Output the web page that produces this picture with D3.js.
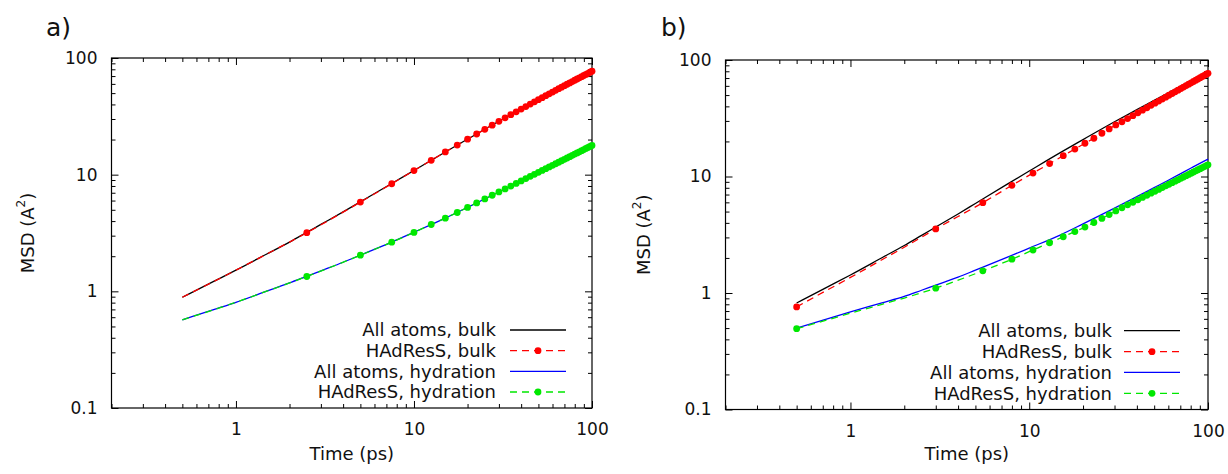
<!DOCTYPE html>
<html>
<head>
<meta charset="utf-8">
<script src="https://cdn.jsdelivr.net/npm/d3@7"></script>
<style>
  html, body { margin: 0; padding: 0; background: #fff; }
  svg { display: block; font-family: "DejaVu Sans", sans-serif; }
</style>
</head>
<body>
<svg id="chart" width="1228" height="474"></svg>
<script>
// ---------------- DATA ----------------
const legendLabels = ["All atoms, bulk", "HAdResS, bulk", "All atoms, hydration", "HAdResS, hydration"];
const panelLabels = ["a)", "b)"];
const xTickValues = [1, 10, 100];
const yTickValues = [0.1, 1, 10, 100];
const xAxisTitle = "Time (ps)";

// times for the continuous "All atoms" curves
const lineTimes = [0.5, 0.75, 1, 1.5, 2, 2.5, 3, 4, 5, 7.5, 10, 15, 20, 30, 40, 50, 60, 70, 80, 90, 100];

// panel a) All atoms
const aBulkAll = [0.89, 1.216, 1.518, 2.10, 2.643, 3.20, 3.745, 4.797, 5.85, 8.39, 10.87, 15.65, 20.15, 28.67, 36.49, 43.92, 51.09, 57.9, 64.43, 70.8, 77.0];
const aHydrAll = [0.57, 0.698, 0.806, 1.007, 1.18, 1.346, 1.499, 1.776, 2.044, 2.639, 3.207, 4.242, 5.243, 7.106, 8.839, 10.47, 12.03, 13.53, 15.0, 16.42, 17.82];

// panel a) HAdResS: unmarked curve points, then marked points
const aPlainTimes = [0.5, 1, 1.5, 2];
const aBulkPlain = [0.89, 1.518, 2.10, 2.643];
const aHydrPlain = [0.57, 0.806, 1.007, 1.18];
const aDotTimes = [2.5, 5, 7.5, 10, 12.5, 15, 17.5, 20, 22.5, 25, 27.5, 30, 32.5, 35, 37.5, 40, 42.5, 45, 47.5, 50,
                   52.5, 55, 57.5, 60, 62.5, 65, 67.5, 70, 72.5, 75, 77.5, 80, 82.5, 85, 87.5, 90, 92.5, 95, 97.5, 100];
const aBulkHad = [3.18, 5.82, 8.36, 10.85, 13.28, 15.65, 17.94, 20.15, 22.32, 24.46, 26.58, 28.67, 30.71, 32.66, 34.59, 36.49, 38.37, 40.24, 42.07, 43.92,
                  45.73, 47.53, 49.32, 51.09, 52.85, 54.57, 56.25, 57.9, 59.56, 61.19, 62.82, 64.43, 66.04, 67.63, 69.22, 70.8, 72.37, 73.93, 75.48, 77.0];
const aHydrHad = [1.34, 2.04, 2.64, 3.2, 3.74, 4.24, 4.74, 5.24, 5.73, 6.2, 6.66, 7.11, 7.55, 7.99, 8.42, 8.84, 9.26, 9.67, 10.07, 10.47,
                  10.87, 11.26, 11.65, 12.03, 12.41, 12.78, 13.16, 13.53, 13.9, 14.27, 14.64, 15.0, 15.36, 15.71, 16.07, 16.42, 16.77, 17.12, 17.47, 17.82];

// panel b) All atoms
const bBulkAll = [0.82, 1.134, 1.428, 2.007, 2.556, 3.124, 3.682, 4.77, 5.87, 8.56, 11.14, 16.11, 20.74, 29.51, 37.49, 45.02, 52.28, 59.32, 66.19, 72.9, 79.5];
const bHydrAll = [0.5, 0.603, 0.688, 0.822, 0.934, 1.056, 1.167, 1.367, 1.57, 2.02, 2.43, 3.16, 3.92, 5.35, 6.72, 8.03, 9.29, 10.54, 11.76, 12.95, 14.1];

// panel b) HAdResS: unmarked curve points between markers, then marked points
const bPlainTimes = [0.75, 1, 1.5, 2];
const bBulkPlain = [1.07, 1.36, 1.93, 2.47];
const bHydrPlain = [0.59, 0.672, 0.8, 0.905];
const bDotTimes = [0.5, 3, 5.5, 8, 10.5, 13, 15.5, 18, 20.5, 23, 25.5, 28, 30.5, 33, 35.5, 38, 40.5, 43, 45.5, 48,
                   50.5, 53, 55.5, 58, 60.5, 63, 65.5, 68, 70.5, 73, 75.5, 78, 80.5, 83, 85.5, 88, 90.5, 93, 95.5, 98, 100];
const bBulkHad = [0.76, 3.55, 5.96, 8.4, 10.7, 12.9, 15.1, 17.2, 19.3, 21.3, 23.5, 25.6, 27.7, 29.5, 31.4, 33.3, 35.2, 37.1, 38.9, 40.8,
                  42.6, 44.4, 46.2, 48.0, 49.8, 51.6, 53.3, 55.1, 56.8, 58.6, 60.3, 62.0, 63.7, 65.4, 67.1, 68.8, 70.5, 72.2, 73.9, 75.6, 76.9];
const bHydrHad = [0.494, 1.10, 1.55, 1.95, 2.34, 2.70, 3.04, 3.37, 3.68, 4.03, 4.37, 4.71, 5.06, 5.39, 5.71, 6.01, 6.31, 6.61, 6.90, 7.19,
                  7.47, 7.75, 8.03, 8.31, 8.58, 8.85, 9.12, 9.38, 9.64, 9.90, 10.16, 10.42, 10.67, 10.93, 11.18, 11.43, 11.67, 11.92, 12.16, 12.41, 12.6];

// ---------------- STYLE / LAYOUT ----------------
const COLORS = { bulkAll: "#000000", bulkHad: "#ff0000", hydrAll: "#0000ff", hydrHad: "#00e800" };
const FONT = "DejaVu Sans";
const svg = d3.select("#chart");

const panels = [
  { x0: 111.5, x1: 592, y0: 58, y1: 408, label: panelLabels[0], labelX: 46, ylabX: 28,
    textX: 496, lineX0: 510, lineX1: 566, legY: [330, 350.7, 371.3, 392],
    bulkAll: aBulkAll, hydrAll: aHydrAll,
    plainT: aPlainTimes, bulkPlain: aBulkPlain, hydrPlain: aHydrPlain,
    dotT: aDotTimes, bulkHad: aBulkHad, hydrHad: aHydrHad },
  { x0: 725.5, x1: 1208, y0: 60, y1: 409.5, label: panelLabels[1], labelX: 661, ylabX: 644,
    textX: 1112, lineX0: 1124, lineX1: 1180, legY: [330.7, 351.7, 372.3, 393.3],
    bulkAll: bBulkAll, hydrAll: bHydrAll,
    plainT: bPlainTimes, bulkPlain: bBulkPlain, hydrPlain: bHydrPlain,
    dotT: bDotTimes, bulkHad: bBulkHad, hydrHad: bHydrHad }
];

panels.forEach(p => {
  const g = svg.append("g");
  const x = d3.scaleLog().domain([0.2, 100]).range([p.x0, p.x1]);
  const y = d3.scaleLog().domain([0.1, 100]).range([p.y1, p.y0]);

  const xMinor = x.ticks().filter(v => !xTickValues.includes(v));
  const yMinor = y.ticks().filter(v => !yTickValues.includes(v));

  const MAJ = 7, MIN = 4;
  function styleAxis(sel) {
    sel.select(".domain").remove();
    sel.selectAll(".tick line").attr("stroke", "#000").attr("stroke-width", 1);
    sel.selectAll("text").attr("font-family", FONT).attr("font-size", 17).attr("fill", "#111");
  }
  // bottom
  g.append("g").attr("transform", `translate(0,${p.y1})`)
    .call(d3.axisBottom(x).tickValues(xTickValues).tickFormat(d3.format("~g")).tickSizeInner(-MAJ).tickSizeOuter(0).tickPadding(15))
    .call(styleAxis);
  g.append("g").attr("transform", `translate(0,${p.y1})`)
    .call(d3.axisBottom(x).tickValues(xMinor).tickFormat("").tickSizeInner(-MIN).tickSizeOuter(0))
    .call(styleAxis);
  // top
  g.append("g").attr("transform", `translate(0,${p.y0})`)
    .call(d3.axisTop(x).tickValues(xTickValues).tickFormat("").tickSizeInner(-MAJ).tickSizeOuter(0))
    .call(styleAxis);
  g.append("g").attr("transform", `translate(0,${p.y0})`)
    .call(d3.axisTop(x).tickValues(xMinor).tickFormat("").tickSizeInner(-MIN).tickSizeOuter(0))
    .call(styleAxis);
  // left
  g.append("g").attr("transform", `translate(${p.x0},0)`)
    .call(d3.axisLeft(y).tickValues(yTickValues).tickFormat(d3.format("~g")).tickSizeInner(-MAJ).tickSizeOuter(0).tickPadding(14))
    .call(styleAxis);
  g.append("g").attr("transform", `translate(${p.x0},0)`)
    .call(d3.axisLeft(y).tickValues(yMinor).tickFormat("").tickSizeInner(-MIN).tickSizeOuter(0))
    .call(styleAxis);
  // right
  g.append("g").attr("transform", `translate(${p.x1},0)`)
    .call(d3.axisRight(y).tickValues(yTickValues).tickFormat("").tickSizeInner(-MAJ).tickSizeOuter(0))
    .call(styleAxis);
  g.append("g").attr("transform", `translate(${p.x1},0)`)
    .call(d3.axisRight(y).tickValues(yMinor).tickFormat("").tickSizeInner(-MIN).tickSizeOuter(0))
    .call(styleAxis);

  // frame
  g.append("rect").attr("x", p.x0).attr("y", p.y0).attr("width", p.x1 - p.x0).attr("height", p.y1 - p.y0)
    .attr("fill", "none").attr("stroke", "#000").attr("stroke-width", 1.2);

  // curves
  const line = d3.line().x(d => x(d[0])).y(d => y(d[1])).curve(d3.curveMonotoneX);
  const zip = (ts, vs) => ts.map((t, i) => [t, vs[i]]);
  const merged = (a, b) => a.concat(b).sort((u, v) => u[0] - v[0]);

  const series = [
    { pts: zip(lineTimes, p.bulkAll), color: COLORS.bulkAll, dash: null },
    { pts: merged(zip(p.plainT, p.bulkPlain), zip(p.dotT, p.bulkHad)), dots: zip(p.dotT, p.bulkHad), color: COLORS.bulkHad, dash: "7,5" },
    { pts: zip(lineTimes, p.hydrAll), color: COLORS.hydrAll, dash: null },
    { pts: merged(zip(p.plainT, p.hydrPlain), zip(p.dotT, p.hydrHad)), dots: zip(p.dotT, p.hydrHad), color: COLORS.hydrHad, dash: "7,5" }
  ];

  series.forEach(s => {
    g.append("path").attr("d", line(s.pts)).attr("fill", "none")
      .attr("stroke", s.color).attr("stroke-width", 1.3)
      .attr("stroke-dasharray", s.dash);
    if (s.dots) {
      g.selectAll(null).data(s.dots).enter().append("circle")
        .attr("cx", d => x(d[0])).attr("cy", d => y(d[1])).attr("r", 3.4).attr("fill", s.color);
    }
  });

  // legend
  series.forEach((s, i) => {
    const yy = p.legY[i];
    g.append("text").attr("x", p.textX).attr("y", yy).attr("dy", "0.36em")
      .attr("text-anchor", "end").attr("font-family", FONT).attr("font-size", 18).attr("fill", "#111")
      .text(legendLabels[i]);
    g.append("line").attr("x1", p.lineX0).attr("x2", p.lineX1).attr("y1", yy).attr("y2", yy)
      .attr("stroke", s.color).attr("stroke-width", 1.3).attr("stroke-dasharray", s.dash);
    if (s.dots) {
      g.append("circle").attr("cx", (p.lineX0 + p.lineX1) / 2).attr("cy", yy).attr("r", 3.4).attr("fill", s.color);
    }
  });

  // axis titles
  g.append("text").attr("x", (p.x0 + p.x1) / 2).attr("y", 460).attr("text-anchor", "middle")
    .attr("font-family", FONT).attr("font-size", 18).attr("fill", "#111").text(xAxisTitle);
  const yl = g.append("text").attr("transform", `translate(${p.ylabX},${(p.y0 + p.y1) / 2}) rotate(-90)`)
    .attr("dy", "0.36em").attr("text-anchor", "middle")
    .attr("font-family", FONT).attr("font-size", 18).attr("fill", "#111");
  yl.append("tspan").text("MSD (A");
  yl.append("tspan").attr("font-size", 12).attr("dy", "-0.75em").text("2");
  yl.append("tspan").attr("dy", "0.5em").text(")");

  // panel label
  g.append("text").attr("x", p.labelX).attr("y", 36).attr("font-family", FONT).attr("font-size", 25)
    .attr("fill", "#111").text(p.label);
});
</script>
</body>
</html>
